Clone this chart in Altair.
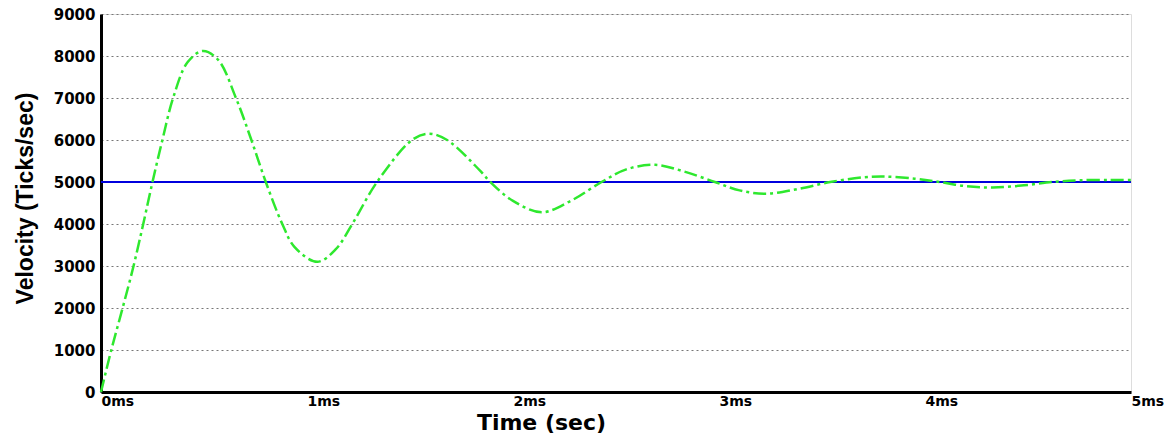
import altair as alt
import pandas as pd

# time in ms, velocity in ticks/sec
t_ms = [0.0, 0.05, 0.105, 0.158, 0.205, 0.25, 0.298, 0.35, 0.42, 0.495, 0.57, 0.655, 0.73, 0.80,
        0.88, 0.94, 1.05, 1.14, 1.22, 1.34, 1.51, 1.59, 1.68, 1.84, 1.89, 2.0, 2.14, 2.28,
        2.43, 2.55, 2.69, 2.83, 2.98, 3.1, 3.23, 3.38, 3.54, 3.7, 3.8, 3.95, 4.07, 4.2,
        4.33, 4.48, 4.62, 4.75, 4.9, 5.0]
velocity = [0, 1000, 2000, 3000, 4000, 5000, 6000, 7000, 7850, 8120, 7900, 7000, 6000, 5000,
            4000, 3450, 3100, 3400, 4000, 5000, 6000, 6150, 6000, 5270, 5000, 4550, 4280, 4550,
            5000, 5300, 5410, 5250, 5000, 4800, 4720, 4830, 5000, 5110, 5130, 5080, 5000, 4900,
            4870, 4920, 5000, 5040, 5050, 5050]
setpoint = [5000]
x_ticks = [0, 1, 2, 3, 4, 5]
y_ticks = [0, 1000, 2000, 3000, 4000, 5000, 6000, 7000, 8000, 9000]

df = pd.DataFrame({"t": t_ms, "v": velocity})
sp = pd.DataFrame({"v": setpoint})

x_scale = alt.Scale(domain=[0, 5], nice=False, zero=False)
y_scale = alt.Scale(domain=[0, 9000], nice=False)

x_axis = alt.Axis(
    values=x_ticks, labelExpr="datum.value + 'ms'", title="Time (sec)",
    grid=False, ticks=False, labelAlign="left", labelPadding=2,
    labelFont="DejaVu Sans", labelFontWeight="bold", labelFontSize=14, labelColor="black",
    titleFont="DejaVu Sans", titleFontWeight="bold", titleFontSize=22, titleColor="black",
    titleX=440, titleY=30, titleAnchor="middle", titleAlign="center", titleBaseline="middle",
    domainColor="black", domainWidth=3, labelFlush=False, labelOverlap=False,
)
y_axis = alt.Axis(
    values=y_ticks, format="d", title="Velocity (Ticks/sec)",
    grid=True, gridColor="#777777", gridDash=[2, 3], gridWidth=1,
    ticks=False, labelPadding=6,
    labelFont="DejaVu Sans", labelFontWeight="bold", labelFontSize=15, labelColor="black",
    titleFont="Liberation Sans", titleFontWeight="bold", titleFontSize=23,
    titleColor="black", titleAngle=270, titleX=-76, titleY=184, titleAlign="center",
    titleBaseline="middle", domainColor="black", domainWidth=3, labelFlush=False,
)

line = alt.Chart(df).mark_line(
    color="#2ee82e", strokeWidth=2.5, strokeDash=[13, 4, 3, 4], interpolate="catmull-rom"
).encode(
    x=alt.X("t:Q", scale=x_scale, axis=x_axis),
    y=alt.Y("v:Q", scale=y_scale, axis=y_axis),
)

rule = alt.Chart(sp).mark_rule(color="#0000dd", strokeWidth=2).encode(
    y=alt.Y("v:Q", scale=y_scale)
)

chart = alt.layer(rule, line).properties(
    width=1030, height=378,
    autosize=alt.AutoSizeParams(type="none"),
    padding={"left": 93, "top": 6, "right": 33, "bottom": 43},
).configure_view(stroke="black", strokeWidth=3).configure(background="white")

chart.save("out.html", embed_options={"renderer": "svg", "actions": False})
